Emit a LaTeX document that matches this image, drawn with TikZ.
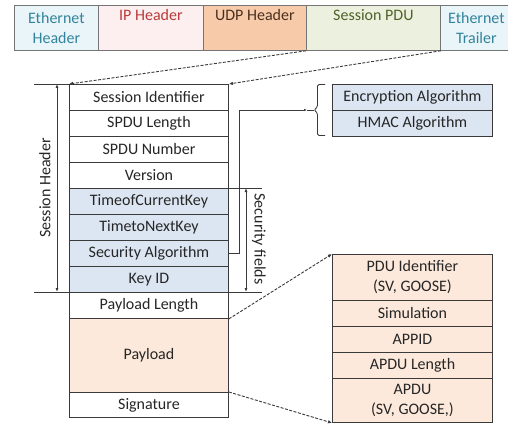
\documentclass[tikz,border=0pt]{standalone}
\usepackage{fontspec}
\setmainfont{Carlito}
\usetikzlibrary{arrows.meta}
\definecolor{txt}{HTML}{262626}
\definecolor{ln}{HTML}{3A3A3A}
\definecolor{ethfill}{HTML}{EAF5FA}
\definecolor{ethtxt}{HTML}{31849B}
\definecolor{ipfill}{HTML}{FDEEF0}
\definecolor{iptxt}{HTML}{B83C3A}
\definecolor{udpfill}{HTML}{F7CBAA}
\definecolor{udptxt}{HTML}{4A3020}
\definecolor{spdufill}{HTML}{EBF1DE}
\definecolor{spdutxt}{HTML}{4F6228}
\definecolor{secfill}{HTML}{DCE6F2}
\definecolor{payfill}{HTML}{FCE9DB}
\tikzset{
  topcell/.style={draw=ln!70, line width=0.8pt, minimum height=45pt, inner sep=0pt, align=center, anchor=north west},
  fld/.style={draw=ln, line width=0.9pt, minimum width=159pt, minimum height=26pt, inner sep=0pt, align=center, anchor=north west, text=txt},
  rfld/.style={draw=ln, line width=0.9pt, minimum width=160pt, minimum height=26pt, inner sep=0pt, align=center, anchor=north west, text=txt},
  conn/.style={draw=ln, line width=0.8pt},
  dconn/.style={draw=ln, line width=0.9pt, dash pattern=on 3pt off 1.5pt, -{Latex[length=4pt,width=3.5pt]}},
  dim/.style={draw=ln, line width=0.8pt, {Latex[length=4pt,width=3pt]}-{Latex[length=4pt,width=3pt]}},
  lbl/.style={text=txt, inner sep=0pt}
}
\begin{document}
\begin{tikzpicture}[x=1pt,y=-1pt, font=\fontsize{16}{20}\selectfont]
\useasboundingbox[fill=white] (0,0) rectangle (508,425);
% top frame bar
\node[topcell, minimum width=84pt, fill=ethfill, text=ethtxt] (eh) at (14,5) {Ethernet\\Header};
\node[topcell, minimum width=105pt, fill=ipfill, text=iptxt] (ip) at (98,5) {IP Header\\[0pt]\strut};
\node[topcell, minimum width=103pt, fill=udpfill, text=udptxt] (udp) at (203,5) {UDP Header\\[0pt]\strut};
\node[topcell, minimum width=134pt, fill=spdufill, text=spdutxt] (spdu) at (306,5) {Session PDU\\[0pt]\strut};
\node[topcell, minimum width=72pt, fill=ethfill, text=ethtxt, text width=68pt] (et) at (440,5) {Ethernet\\Trailer};
% main stack
\node[fld] (si) at (69,84) {Session Identifier};
\node[fld] (sl) at (69,110) {SPDU Length};
\node[fld] (sn) at (69,136) {SPDU Number};
\node[fld] (ver) at (69,162) {Version};
\node[fld, fill=secfill] (tck) at (69,188) {TimeofCurrentKey};
\node[fld, fill=secfill] (tnk) at (69,214) {TimetoNextKey};
\node[fld, fill=secfill] (sa) at (69,240) {Security Algorithm};
\node[fld, fill=secfill] (kid) at (69,266) {Key ID};
\node[fld] (pl) at (69,292) {Payload Length};
\node[fld, fill=payfill, minimum height=74pt] (pay) at (69,318) {Payload};
\node[fld, minimum height=25pt] (sig) at (69,392) {Signature};
% algorithm box
\node[rfld, fill=secfill] (enc) at (332,84) {Encryption Algorithm};
\node[rfld, fill=secfill] (hmac) at (332,110) {HMAC Algorithm};
% payload detail box
\node[rfld, fill=payfill, minimum height=46pt] (pdu) at (332,254) {PDU Identifier\\(SV, GOOSE)};
\node[rfld, fill=payfill] (sim) at (332,300) {Simulation};
\node[rfld, fill=payfill] (appid) at (332,326) {APPID};
\node[rfld, fill=payfill] (alen) at (332,352) {APDU Length};
\node[rfld, fill=payfill, minimum height=44pt] (apdu) at (332,378) {APDU\\(SV, GOOSE,)};
% dashed zoom connectors
\draw[dconn] (spdu.south west) -- (si.north west);
\draw[dconn] (spdu.south east) -- (si.north east);
\draw[dconn] (pl.south east) -- (pdu.north west);
\draw[dconn] (sig.north east) -- (apdu.south west);
% session header dimension
\coordinate (shtop) at (34,84);
\coordinate (shbot) at (34,292);
\coordinate (shbotr) at (262,292);
\draw[conn] (shtop) -- (si.north west);
\draw[conn] (shbot) -- (shbotr);
\draw[dim] (57,84) -- (57,292);
\node[lbl, rotate=90] (shl) at (45,188) {Session Header};
% security fields dimension
\coordinate (sftopr) at (262,188);
\draw[conn] (tck.north east) -- (sftopr);
\draw[dim] (246,188) -- (246,292);
\node[lbl, rotate=-90] (sfl) at (259,239) {Security fields};
% security algorithm connector and brace
\coordinate (arrend) at (307,110);
\draw[conn, -{Latex[length=3pt,width=2.5pt]}] (sa.east) -- ++(10,0) |- (arrend);
\draw[conn, rounded corners=1.5pt] (325,84.5) -- (317.5,84.5) -- (317.5,107) -- (314,110) -- (317.5,113) -- (317.5,135.5) -- (325,135.5);
\draw[conn] (arrend) -- (314,110);
\end{tikzpicture}
\end{document}
